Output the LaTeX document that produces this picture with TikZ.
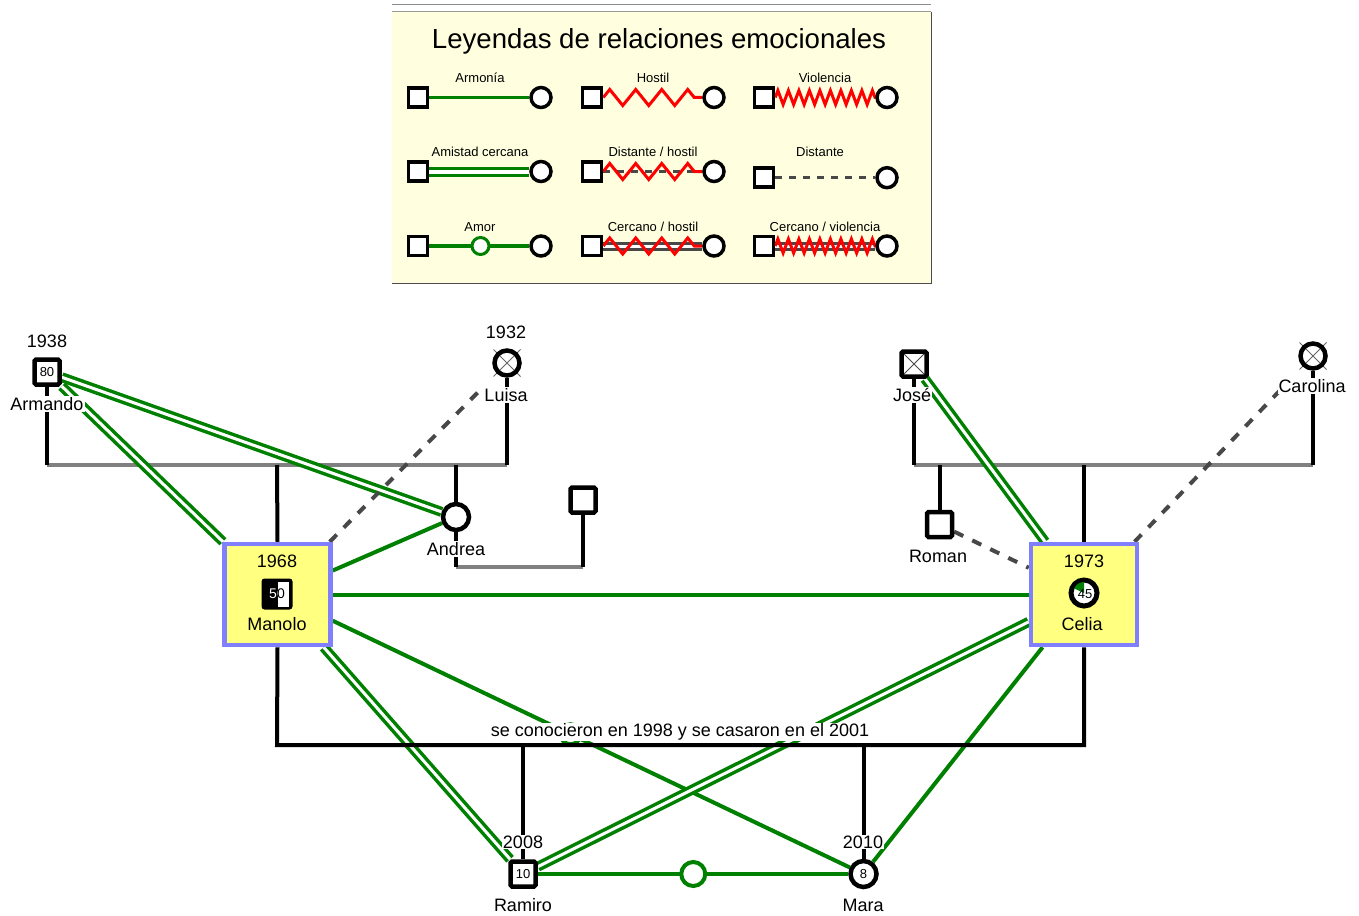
\documentclass[tikz,border=0pt]{standalone}
\usepackage{fontspec}
\setmainfont{Liberation Sans}
\usetikzlibrary{decorations.pathmorphing,calc}

\definecolor{rel}{RGB}{0,128,0}
\definecolor{hostile}{RGB}{255,0,0}
\definecolor{dist}{RGB}{72,72,72}
\definecolor{kingray}{RGB}{128,128,128}
\definecolor{legbg}{RGB}{255,255,224}
\definecolor{boxfill}{RGB}{255,255,128}
\definecolor{boxline}{RGB}{128,128,255}

\pgfdeclarelayer{bg}
\pgfdeclarelayer{lines}
\pgfsetlayers{bg,lines,main}

\begin{document}
\begin{tikzpicture}[x=1pt,y=-1pt,
  every node/.style={inner sep=0pt},
  lab/.style={font=\fontsize{18}{18}\selectfont, fill=white, inner sep=1pt},
  num/.style={font=\fontsize{13}{13}\selectfont},
  male/.style={rectangle, draw=black, line width=4.5pt, fill=white, rounded corners=1.5pt, minimum size=25pt, num},
  female/.style={circle, draw=black, line width=4.5pt, fill=white, minimum size=26pt, num},
  deadf/.style={circle, draw=black, line width=4.5pt, minimum size=25pt},
  deadm/.style={rectangle, draw=black, line width=4.5pt, fill=white, rounded corners=1.5pt, minimum size=25pt,
    path picture={\draw[black!70, line width=0.8pt]
      (path picture bounding box.north west) -- (path picture bounding box.south east)
      (path picture bounding box.north east) -- (path picture bounding box.south west);}},
  xmark/.style={draw=black!60, line width=0.9pt},
  idbox/.style={rectangle, draw=boxline, fill=boxfill, line width=4.5pt, minimum width=106pt, minimum height=101pt},
  kin/.style={draw=kingray, line width=4pt},
  blk/.style={draw=black, line width=4pt},
  harm/.style={draw=rel, line width=4pt},
  close/.style={draw=rel, line width=3.5pt, double=white, double distance=3pt},
  distant/.style={draw=dist, line width=4pt, dash pattern=on 10pt off 10pt},
  amor/.style={circle, draw=rel, line width=4pt, fill=white, minimum size=24pt},
  lsq/.style={rectangle, draw=black, line width=3.5pt, fill=white, minimum size=19pt},
  lci/.style={circle, draw=black, line width=3.5pt, fill=white, minimum size=20pt},
  lgl/.style={font=\fontsize{13}{13}\selectfont},
  lharm/.style={draw=rel, line width=3.5pt},
  lclose/.style={draw=rel, line width=3pt, double=white, double distance=4pt},
  lgray/.style={draw=dist, line width=3pt, double=white, double distance=3pt},
  ldist/.style={draw=dist, line width=3pt, dash pattern=on 7pt off 7pt},
  lhost/.style={draw=hostile, line width=3pt, decorate, decoration={zigzag, segment length=26pt, amplitude=8pt}},
  lviol/.style={draw=hostile, line width=3pt, decorate, decoration={zigzag, segment length=10.5pt, amplitude=7pt}},
  lamor/.style={circle, draw=rel, line width=3pt, fill=white, minimum size=17pt}
]
\useasboundingbox (0,0) rectangle (1359,915);

% ---------- legend panel ----------
\begin{pgfonlayer}{bg}
  \fill[legbg] (392,12) rectangle (931,283);
  \draw[black!45, line width=1pt] (392,5) -- (931,5);
  \draw[black!40, line width=1pt] (392,12) -- (931,12);
  \draw[black!70, line width=1pt] (931,12) -- (931,283) -- (392,283);
\end{pgfonlayer}
\node[font=\fontsize{27.6}{27.6}\selectfont] (legtitle) at (659,41) {Leyendas de relaciones emocionales};

% row 1
\node[lgl] (t11) at (480,78) {Armonía};
\node[lgl] (t12) at (653,78) {Hostil};
\node[lgl] (t13) at (825,78) {Violencia};
\node[lsq] (s11) at (418,97.5) {}; \node[lci] (c11) at (541,97.5) {};
\node[lsq] (s12) at (592,97.5) {}; \node[lci] (c12) at (714,97.5) {};
\node[lsq] (s13) at (764,97.5) {}; \node[lci] (c13) at (887,97.5) {};
% row 2
\node[lgl] (t21) at (480,152) {Amistad cercana};
\node[lgl] (t22) at (653,152) {Distante / hostil};
\node[lgl] (t23) at (820,152) {Distante};
\node[lsq] (s21) at (418,171.5) {}; \node[lci] (c21) at (541,171.5) {};
\node[lsq] (s22) at (592,171.5) {}; \node[lci] (c22) at (714,171.5) {};
\node[lsq] (s23) at (764,177.7) {}; \node[lci] (c23) at (887,177.7) {};
% row 3
\node[lgl] (t31) at (480,227) {Amor};
\node[lgl] (t32) at (653,227) {Cercano / hostil};
\node[lgl] (t33) at (825,227) {Cercano / violencia};
\node[lsq] (s31) at (418,246) {}; \node[lci] (c31) at (541,246) {};
\node[lsq] (s32) at (592,246) {}; \node[lci] (c32) at (714,246) {};
\node[lsq] (s33) at (764,246) {}; \node[lci] (c33) at (887,246) {};
\node[lamor] (a31) at (480.5,246) {};

\begin{pgfonlayer}{lines}
  \draw[lharm] (s11) -- (c11);
  \draw[lhost] (s12) -- (c12);
  \draw[lviol] (s13) -- (c13);
  \draw[lclose] (s21) -- (c21);
  \draw[ldist] (s22) -- (c22);
  \draw[lhost] (s22) -- (c22);
  \draw[ldist] (s23) -- (c23);
  \draw[lharm] (s31) -- (c31);
  \draw[lgray] (s32) -- (c32);
  \draw[lhost] (s32) -- (c32);
  \draw[lgray] (s33) -- (c33);
  \draw[lviol] (s33) -- (c33);
\end{pgfonlayer}

% ---------- people ----------
\node[male] (arm) at (47,372) {80};
\node[lab] (armyr) at (47,341) {1938};
\node[lab] (armnm) at (47,404) {Armando};

\node[deadf] (lui) at (507,363) {};
\node[lab] (luiyr) at (506,332) {1932};
\node[lab] (luinm) at (506,395) {Luisa};

\node[female] (and) at (456,517) {};
\node[lab] (andnm) at (456,549) {Andrea};
\node[male] (unk) at (583,500) {};

\node[deadm] (jos) at (914,364) {};
\node[lab] (josnm) at (912,395) {José};

\node[deadf] (car) at (1313,356) {};
\node[lab] (carnm) at (1312,386) {Carolina};

\node[male] (rom) at (939.5,524.5) {};
\node[lab] (romnm) at (938,556) {Roman};

% Manolo
\node[idbox] (man) at (277.5,594.5) {};
\node[lab, fill=none] (manyr) at (277,561) {1968};
\node[lab, fill=none] (mannm) at (277,624) {Manolo};
\node[fill=black, rounded corners=3pt, minimum size=31pt] (mansym) at (277,594) {};
\fill[white] ($(mansym.center)+(1,-12)$) rectangle ($(mansym.center)+(12,13)$);
\node[font=\fontsize{14}{14}\selectfont, text=white] (manage) at (277,594) {50};
\begin{scope}
  \clip ($(mansym.center)+(1,-12)$) rectangle ($(mansym.center)+(12,13)$);
  \node[font=\fontsize{14}{14}\selectfont, text=black] (managein) at (277,594) {50};
\end{scope}

% Celia
\node[idbox] (cel) at (1084,594.5) {};
\node[lab, fill=none] (celyr) at (1084,561) {1973};
\node[lab, fill=none] (celnm) at (1082,624) {Celia};
\node[circle, draw=black, line width=5pt, fill=white, minimum size=26pt] (celsym) at (1084,593) {};
\fill[rel] (celsym.center) -- ++(205:11) arc[start angle=205, end angle=270, radius=11] -- cycle;
\node[num] (celage) at (1085,594) {45};

% children
\node[male] (ram) at (523,874) {10};
\node[lab] (ramyr) at (523,842) {2008};
\node[lab] (ramnm) at (523,905) {Ramiro};
\node[female] (mar) at (863.5,874) {8};
\node[lab] (maryr) at (863,842) {2010};
\node[lab] (marnm) at (863,905) {Mara};

% love marker between Ramiro and Mara
\node[amor] (rmlove) at ($(ram.center)!0.5!(mar.center)$) {};

\node[lab] (story) at (680,732) {se conocieron en 1998 y se casaron en el 2001};

% ---------- connectors ----------
\coordinate (c1l) at (47,465);
\coordinate (c1r) at (507,465);
\coordinate (k1) at (277,465);
\coordinate (k2) at (456,465);
\coordinate (c2l) at (456,567);
\coordinate (c2r) at (583,567);
\coordinate (c3l) at (914,465);
\coordinate (c3r) at (1313,465);
\coordinate (k3) at (939.5,465);
\coordinate (k4) at (1084,465);
\coordinate (m1) at (277,745);
\coordinate (m2) at (1084,745);
\coordinate (k5) at (523,745);
\coordinate (k6) at (863.5,745);

\begin{pgfonlayer}{lines}
  % deceased crosses
  \draw[xmark] ($(lui.center)+(-13.5,-13.5)$) -- ($(lui.center)+(13.5,13.5)$);
  \draw[xmark] ($(lui.center)+(13.5,-13.5)$) -- ($(lui.center)+(-13.5,13.5)$);
  \draw[xmark] ($(car.center)+(-13.5,-13.5)$) -- ($(car.center)+(13.5,13.5)$);
  \draw[xmark] ($(car.center)+(13.5,-13.5)$) -- ($(car.center)+(-13.5,13.5)$);

  % family lines
  \draw[kin] (c1l) -- (c1r);
  \draw[blk] (arm.south) -- (c1l);
  \draw[blk] (lui.south) -- (c1r);
  \draw[blk] (k1) -- (man.north);
  \draw[blk] (k2) -- (and.north);
  \draw[kin] (c2l) -- (c2r);
  \draw[blk] (and.south) -- (c2l);
  \draw[blk] (unk.south) -- (c2r);
  \draw[kin] (c3l) -- (c3r);
  \draw[blk] (jos.south) -- (c3l);
  \draw[blk] (car.south) -- (c3r);
  \draw[blk] (k3) -- (rom.north);
  \draw[blk] (k4) -- (cel.north);
  \draw[blk] (k5) -- (ram.north);
  \draw[blk] (k6) -- (mar.north);

  % emotional relations
  \draw[close] (arm) -- (and);
  \draw[close] (arm) -- (man);
  \draw[harm] (man) -- (and);
  \draw[harm] (man) -- (cel);
  \draw[harm] (man) -- (mar);
  \draw[close] (man) -- (ram);
  \draw[close] (cel) -- (ram);
  \draw[harm] (cel) -- (mar);
  \draw[close] (jos) -- (cel);
  \draw[harm] (ram) -- (mar);
  \draw[distant, shorten >=18pt] (man) -- (lui);
  \draw[distant] (rom) -- (cel);
  \draw[distant, shorten >=20pt] (cel) -- (car);

  % love marker between Manolo and Mara, under the marriage line
  \node[amor, minimum size=20pt] (mmlove) at ($(man.center)!0.5!(mar.center)$) {};

  % marriage line of Manolo and Celia
  \draw[blk] (man.south) -- (m1) -- (m2) -- (cel.south);
\end{pgfonlayer}
\end{tikzpicture}
\end{document}
